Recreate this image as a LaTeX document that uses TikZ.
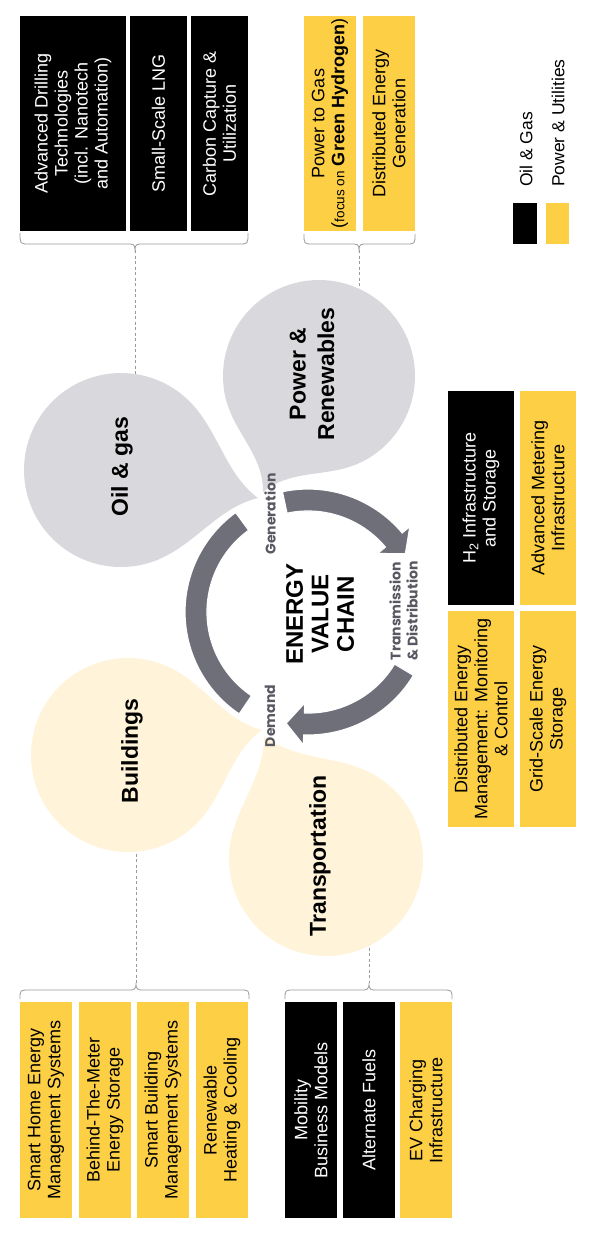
\documentclass[tikz,border=0pt]{standalone}
\usepackage{fontspec}
\setmainfont{Liberation Sans}
\newfontfamily\lblfont{Poppins}
\usetikzlibrary{calc}
\definecolor{euy}{HTML}{FDCF45}
\definecolor{petalgrey}{HTML}{D9D9DD}
\definecolor{petalcream}{HTML}{FFF4D9}
\definecolor{ringgrey}{HTML}{6F6F79}
\definecolor{stagec}{HTML}{585862}
\definecolor{linec}{HTML}{9A9A9A}
\newcommand\boxfont{\fontsize{18}{20}\selectfont}
\newcommand\legfont{\fontsize{17.5}{20}\selectfont}
\newcommand\petalfont{\fontsize{23}{28.5}\selectfont\bfseries}
\newcommand\chainfont{\fontsize{24}{25.5}\selectfont\bfseries}
\newcommand\stagefont{\lblfont\fontsize{14}{17}\selectfont\bfseries}
\tikzset{
 ogbox/.style={rotate=90, fill=black, text=white, align=center, inner sep=0pt, font=\boxfont},
 pubox/.style={rotate=90, fill=euy, text=black, align=center, inner sep=0pt, font=\boxfont},
 petallbl/.style={rotate=90, align=center, font=\petalfont, inner sep=0pt},
 stagelbl/.style={rotate=90, align=center, font=\stagefont, text=stagec, inner sep=0pt},
 legendlbl/.style={rotate=90, anchor=west, font=\legfont, inner sep=0pt},
 bracec/.style={draw=linec, line width=0.8pt},
 dashc/.style={draw=linec, line width=0.7pt, dash pattern=on 3pt off 2.5pt},
 ringc/.style={fill=ringgrey, draw=white, line width=1.2pt},
}
% teardrop petal: style, cx, cy, r, tipx, tipy
\newcommand\petal[6]{%
 \pgfmathsetmacro\tdD{veclen(#5-#2,#6-#3)}%
 \pgfmathsetmacro\tdP{atan2(#6-#3,#5-#2)}%
 \pgfmathsetmacro\tdG{acos(#4/\tdD)+12}%
 \pgfmathsetmacro\tdS{0.3*\tdD}%
 \pgfmathsetmacro\tdA{\tdP+\tdG}%
 \pgfmathsetmacro\tdB{\tdP-\tdG+360}%
 \fill[#1] (#5,#6) .. controls ($(#5,#6)+({\tdP+155}:\tdS)$) and ($(#2,#3)+(\tdA:#4)+({\tdA-90}:\tdS)$) .. ($(#2,#3)+(\tdA:#4)$)
   -- plot[domain=\tdA:\tdB, samples=90] ({#2+#4*cos(\x)},{#3+#4*sin(\x)})
   .. controls ($(#2,#3)+(\tdB:#4)+({\tdB+90}:\tdS)$) and ($(#5,#6)+({\tdP+205}:\tdS)$) .. (#5,#6) -- cycle;}
% ring arrow: start angle, base angle (math angles, clockwise)
\newcommand\ringarrow[2]{%
 \filldraw[ringc] plot[domain=#1:#2, samples=40] ({308+123*cos(\x)},{612-123*sin(\x)})
   -- ({308+133*cos(#2)},{612-133*sin(#2)})
   -- ({308+112*cos(#2)+18*sin(#2)},{612-112*sin(#2)+18*cos(#2)})
   -- ({308+91*cos(#2)},{612-91*sin(#2)})
   -- plot[domain=#2:#1, samples=40] ({308+101*cos(\x)},{612-101*sin(\x)}) -- cycle;}
% brace: x1, x2, xm, yend, yline, ytip
\newcommand\ebrace[6]{%
 \draw[bracec] (#1,#4) .. controls (#1,#5) and (#1,#5) .. ({#1+9},#5) -- ({#3-8},#5)
   .. controls ({#3-2},#5) and (#3,#5) .. (#3,#6)
   .. controls (#3,#5) and ({#3+2},#5) .. ({#3+8},#5) -- ({#2-9},#5)
   .. controls (#2,#5) and (#2,#5) .. (#2,#4);}
\begin{document}
\begin{tikzpicture}[x=1pt,y=-1pt]
\useasboundingbox[fill=white] (0,0) rectangle (594,1234);

% ---------- top boxes ----------
\node[ogbox, minimum width=215pt, minimum height=106pt] (adt) at (73,123.5) {Advanced Drilling\\Technologies\\(incl. Nanotech\\and Automation)};
\node[ogbox, minimum width=215pt, minimum height=57pt] (lng) at (158.5,123.5) {Small-Scale LNG};
\node[ogbox, minimum width=215pt, minimum height=57pt] (ccu) at (219.5,123.5) {Carbon Capture \&\\Utilization};
\node[pubox, minimum width=215pt, minimum height=52pt] (ptg) at (330,123.5) {Power to Gas\\({\fontsize{13.5}{15}\selectfont focus on} \textbf{Green Hydrogen})};
\node[pubox, minimum width=215pt, minimum height=52pt] (deg) at (389,123.5) {Distributed Energy\\Generation};

% ---------- legend ----------
\node[fill=black, minimum width=24pt, minimum height=41pt, inner sep=0pt] (lgog) at (525,223.5) {};
\node[fill=euy, minimum width=23pt, minimum height=41pt, inner sep=0pt] (lgpu) at (557.5,223.5) {};
\node[legendlbl] (lgogt) at (526,187) {Oil \& Gas};
\node[legendlbl] (lgput) at (558,187) {Power \& Utilities};

% ---------- braces and dashed links ----------
\ebrace{20}{248}{135}{233}{244}{250}
\ebrace{304}{415}{359}{234}{244}{250}
\ebrace{20}{249}{136}{999}{990}{983}
\ebrace{285}{452}{369}{999}{990}{983}
\coordinate (ogbr) at (135,250);
\coordinate (pubr) at (359,250);
\coordinate (bdbr) at (136,983);
\coordinate (trbr) at (369,983);
\coordinate (oiltop) at (135,378);
\coordinate (pwrtop) at (359,292);
\coordinate (bldbot) at (136,848);
\coordinate (trnbot) at (369,942);
\draw[dashc] (ogbr) -- (oiltop);
\draw[dashc] (pubr) -- (pwrtop);
\draw[dashc] (bldbot) -- (bdbr);
\draw[dashc] (trnbot) -- (trbr);

% ---------- petals ----------
\petal{petalgrey}{121}{470}{97}{258}{498}
\petal{petalgrey}{319}{376}{96}{263}{492}
\petal{petalcream}{128}{755}{97}{262}{730}
\petal{petalcream}{326}{859}{97}{264}{736}

% ---------- ring ----------
\filldraw[ringc] plot[domain=126:236, samples=50] ({308+123*cos(\x)},{612-123*sin(\x)})
   -- plot[domain=236:126, samples=50] ({308+101*cos(\x)},{612-101*sin(\x)}) -- cycle;
\ringarrow{102}{40}
\ringarrow{-31}{-92}

% ---------- labels ----------
\node[petallbl] (oil) at (122,467) {Oil \& gas};
\node[petallbl] (pwr) at (312,374) {Power \&\\Renewables};
\node[petallbl] (bld) at (132,751) {Buildings};
\node[petallbl] (trn) at (320,856) {Transportation};
\node[rotate=90, align=center, font=\chainfont, inner sep=0pt] (evc) at (320,614) {ENERGY\\VALUE\\CHAIN};
\node[stagelbl] (gen) at (270,514) {Generation};
\node[stagelbl] (tnd) at (403.5,611) {Transmission\\\& Distribution};
\node[stagelbl] (dmd) at (270,716) {Demand};

% ---------- middle boxes ----------
\node[ogbox, minimum width=214pt, minimum height=66pt] (h2) at (481,498) {H\textsubscript{2} Infrastructure\\and Storage};
\node[pubox, minimum width=214pt, minimum height=56pt] (ami) at (548,498) {Advanced Metering\\Infrastructure};
\node[pubox, minimum width=216pt, minimum height=66pt] (dem) at (481,719) {Distributed Energy\\Management: Monitoring\\\& Control};
\node[pubox, minimum width=216pt, minimum height=56pt] (gse) at (548,719) {Grid-Scale Energy\\Storage};

% ---------- bottom boxes ----------
\node[pubox, minimum width=216pt, minimum height=52pt] (shem) at (46,1110) {Smart Home Energy\\Management Systems};
\node[pubox, minimum width=216pt, minimum height=52pt] (btm) at (105,1110) {Behind-The-Meter\\Energy Storage};
\node[pubox, minimum width=216pt, minimum height=52pt] (sbms) at (163,1110) {Smart Building\\Management Systems};
\node[pubox, minimum width=216pt, minimum height=52pt] (rhc) at (222,1110) {Renewable\\Heating \& Cooling};
\node[ogbox, minimum width=216pt, minimum height=52pt] (mbm) at (311,1110) {Mobility\\Business Models};
\node[ogbox, minimum width=216pt, minimum height=52pt] (af) at (369,1110) {Alternate Fuels};
\node[pubox, minimum width=216pt, minimum height=52pt] (evci) at (426,1110) {EV Charging\\Infrastructure};
\end{tikzpicture}
\end{document}
